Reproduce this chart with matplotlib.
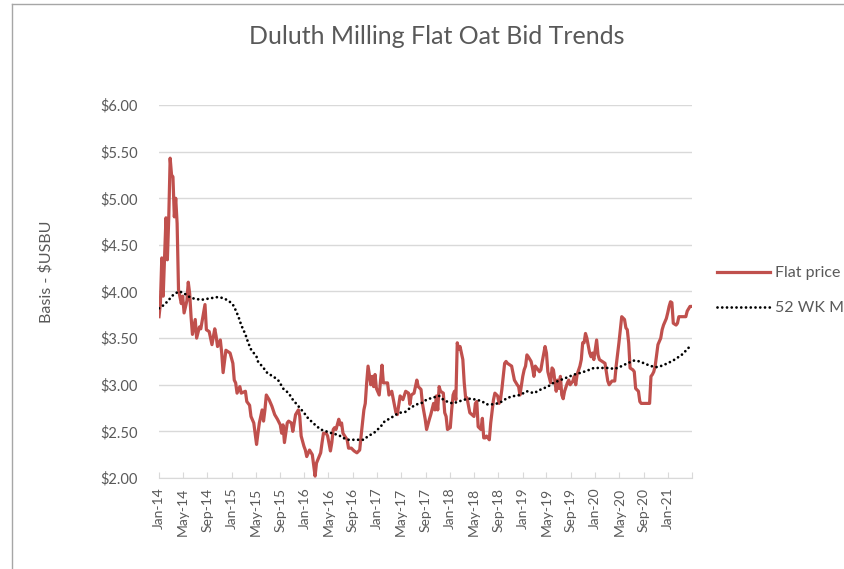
import numpy as np
import pandas as pd
import matplotlib
matplotlib.use('Agg')
import matplotlib.pyplot as plt
from matplotlib.lines import Line2D
from matplotlib.ticker import FuncFormatter

# Donnees (semaines depuis le 1er janvier 2014)
start = pd.Timestamp('2014-01-01')

price_weeks = [0, 1, 2, 3, 4, 5, 6, 7, 8, 9, 10, 11, 12, 13, 14, 16, 17, 18, 20, 21,
               22, 23, 24, 26, 27, 29, 30, 33, 34, 36, 38, 40, 41, 42, 44, 45, 46, 48, 51, 53,
               54, 55, 56, 58, 59, 62, 63, 65, 66, 68, 70, 71, 72, 74, 75, 76, 77, 79, 81, 83,
               85, 87, 88, 89, 90, 92, 93, 95, 96, 98, 100, 101, 102, 104, 105, 106, 108, 110, 112, 113,
               116, 117, 118, 120, 121, 123, 124, 125, 126, 127, 129, 130, 131, 132, 135, 136, 138, 140, 142, 144,
               145, 147, 148, 149, 150, 152, 153, 154, 155, 156, 158, 160, 161, 164, 165, 167, 170, 171, 173, 175,
               177, 179, 180, 181, 183, 185, 186, 188, 189, 191, 192, 194, 195, 197, 198, 199, 200, 201, 202, 204,
               205, 206, 207, 209, 210, 211, 212, 213, 214, 215, 216, 218, 219, 220, 221, 223, 226, 227, 228, 229,
               231, 232, 233, 234, 235, 237, 238, 240, 241, 243, 244, 245, 246, 248, 249, 250, 252, 253, 255, 257,
               258, 259, 261, 262, 263, 264, 265, 267, 268, 269, 270, 271, 273, 274, 275, 277, 278, 279, 281, 282,
               283, 285, 286, 287, 288, 289, 290, 291, 293, 294, 295, 297, 298, 299, 300, 302, 303, 304, 305, 306,
               307, 309, 310, 311, 312, 314, 315, 316, 318, 320, 322, 323, 325, 327, 328, 330, 331, 332, 334, 335,
               336, 337, 338, 340, 341, 342, 344, 345, 346, 352, 353, 354, 355, 356, 358, 360, 361, 362, 364, 365,
               366, 367, 368, 369, 371, 372, 373, 376, 378, 379, 381, 382]
price_values = [3.73, 3.87, 4.36, 3.95, 4.36, 4.79, 4.34, 4.79, 5.43, 5.25, 5.23, 4.80, 5.00, 4.73, 4.02, 3.87, 3.95, 3.77, 3.90, 4.10,
                3.98, 3.73, 3.54, 3.70, 3.50, 3.62, 3.60, 3.86, 3.59, 3.57, 3.43, 3.60, 3.52, 3.41, 3.48, 3.34, 3.13, 3.37, 3.34, 3.23,
                3.05, 3.02, 2.91, 2.98, 2.91, 2.93, 2.82, 2.78, 2.66, 2.59, 2.36, 2.48, 2.59, 2.73, 2.61, 2.73, 2.89, 2.84, 2.77, 2.68,
                2.63, 2.57, 2.48, 2.57, 2.38, 2.59, 2.61, 2.59, 2.50, 2.68, 2.73, 2.66, 2.45, 2.34, 2.30, 2.23, 2.30, 2.25, 2.02, 2.16,
                2.27, 2.38, 2.48, 2.48, 2.45, 2.29, 2.38, 2.52, 2.54, 2.52, 2.63, 2.57, 2.59, 2.48, 2.41, 2.32, 2.32, 2.29, 2.27, 2.30,
                2.45, 2.73, 2.80, 3.02, 3.20, 3.00, 3.09, 2.98, 3.11, 2.96, 2.89, 3.21, 3.02, 3.02, 2.89, 2.93, 2.70, 2.68, 2.88, 2.84,
                2.93, 2.91, 2.79, 2.89, 2.91, 3.05, 2.98, 2.95, 2.80, 2.63, 2.52, 2.63, 2.68, 2.80, 2.73, 2.88, 2.73, 2.98, 2.93, 2.91,
                2.70, 2.66, 2.52, 2.54, 2.73, 2.89, 2.93, 2.84, 3.45, 3.38, 3.41, 3.27, 3.02, 2.86, 2.86, 2.70, 2.66, 2.80, 2.82, 2.55,
                2.52, 2.64, 2.43, 2.43, 2.45, 2.41, 2.59, 2.84, 2.91, 2.88, 2.80, 2.84, 2.95, 3.23, 3.25, 3.23, 3.21, 3.20, 3.05, 3.00,
                2.98, 2.89, 3.09, 3.16, 3.20, 3.32, 3.30, 3.25, 3.18, 3.09, 3.20, 3.18, 3.14, 3.16, 3.25, 3.41, 3.34, 3.14, 3.02, 3.18,
                3.16, 2.93, 3.05, 2.96, 3.09, 2.89, 2.85, 2.93, 3.02, 3.05, 3.00, 3.04, 3.09, 3.00, 3.11, 3.20, 3.27, 3.45, 3.45, 3.55,
                3.50, 3.34, 3.30, 3.34, 3.27, 3.48, 3.32, 3.27, 3.25, 3.23, 3.04, 3.00, 3.04, 3.04, 3.20, 3.45, 3.59, 3.73, 3.70, 3.61,
                3.59, 3.45, 3.18, 3.16, 3.14, 2.96, 2.93, 2.82, 2.80, 2.80, 3.09, 3.11, 3.14, 3.20, 3.43, 3.50, 3.59, 3.64, 3.71, 3.77,
                3.84, 3.89, 3.88, 3.66, 3.64, 3.66, 3.73, 3.73, 3.73, 3.79, 3.84, 3.84]

ma_weeks = [0, 4, 7, 10, 14, 17, 20, 23, 27, 30, 34, 38, 42, 46, 50, 53, 55, 57, 59, 62,
            64, 66, 70, 71, 75, 78, 82, 86, 89, 93, 96, 100, 104, 107, 112, 116, 120, 124, 129, 132,
            136, 140, 143, 147, 150, 154, 159, 162, 166, 170, 173, 177, 180, 185, 188, 192, 196, 201, 204, 208,
            211, 215, 219, 223, 228, 232, 235, 239, 243, 246, 250, 255, 259, 264, 269, 274, 279, 283, 288, 293,
            298, 303, 307, 312, 317, 322, 327, 332, 336, 341, 345, 348, 353, 357, 360, 365, 370, 375, 379, 382]
ma_values = [3.82, 3.86, 3.91, 3.96, 4.00, 3.99, 3.96, 3.93, 3.92, 3.91, 3.92, 3.93, 3.94, 3.93, 3.90, 3.86, 3.80, 3.73, 3.64, 3.54,
             3.45, 3.38, 3.30, 3.25, 3.18, 3.12, 3.09, 3.04, 2.96, 2.91, 2.84, 2.77, 2.70, 2.64, 2.57, 2.52, 2.50, 2.48, 2.46, 2.43,
             2.41, 2.41, 2.41, 2.41, 2.45, 2.48, 2.55, 2.61, 2.64, 2.68, 2.70, 2.71, 2.75, 2.79, 2.80, 2.84, 2.86, 2.88, 2.84, 2.81,
             2.80, 2.82, 2.84, 2.85, 2.84, 2.82, 2.79, 2.79, 2.80, 2.82, 2.86, 2.88, 2.89, 2.93, 2.91, 2.95, 2.98, 3.02, 3.05, 3.08,
             3.11, 3.13, 3.15, 3.18, 3.18, 3.18, 3.17, 3.20, 3.23, 3.26, 3.25, 3.23, 3.20, 3.19, 3.20, 3.23, 3.27, 3.32, 3.38, 3.43]

y_ticks = [2.0, 2.5, 3.0, 3.5, 4.0, 4.5, 5.0, 5.5, 6.0]
tick_labels = ['Jan-14', 'May-14', 'Sep-14', 'Jan-15', 'May-15', 'Sep-15', 'Jan-16', 'May-16',
               'Sep-16', 'Jan-17', 'May-17', 'Sep-17', 'Jan-18', 'May-18', 'Sep-18', 'Jan-19',
               'May-19', 'Sep-19', 'Jan-20', 'May-20', 'Sep-20', 'Jan-21', '']

price_dates = start + pd.to_timedelta(np.array(price_weeks) * 7, unit='D')
ma_dates = start + pd.to_timedelta(np.array(ma_weeks) * 7, unit='D')
tick_dates = pd.date_range('2014-01-01', '2021-05-01', freq='4MS')

plt.rcParams['font.family'] = ['Lato', 'DejaVu Sans']
grey_txt = '#595959'
grey_line = '#d9d9d9'

fig = plt.figure(figsize=(8.44, 5.69), dpi=100)
ax = fig.add_axes([159 / 844, 91 / 569, 533 / 844, 373 / 569])

ax.plot(price_dates, price_values, color='#C0504D', lw=2.3, label='Flat price',
        solid_joinstyle='round')
ax.plot(ma_dates, ma_values, color='black', lw=2.0, linestyle=(0, (0.01, 1.7)),
        dash_capstyle='round', label='52 WK MA')

ax.set_ylim(2, 6)
ax.set_xlim(price_dates[0], price_dates[-1])
ax.set_yticks(y_ticks)
ax.yaxis.set_major_formatter(FuncFormatter(lambda v, p: '${:.2f}'.format(v)))
ax.set_xticks(tick_dates, tick_labels, rotation=90)

ax.yaxis.grid(True, color=grey_line, lw=1)
ax.set_axisbelow(True)
for side in ['left', 'right', 'top']:
    ax.spines[side].set_visible(False)
ax.spines['bottom'].set_color(grey_line)
ax.tick_params(axis='y', length=0, pad=15, labelsize=10.5, labelcolor=grey_txt)
ax.tick_params(axis='x', direction='in', length=4, color=grey_line, pad=7,
               labelsize=10, labelcolor=grey_txt)

fig.text(437 / 844, 1 - 44 / 569, 'Duluth Milling Flat Oat Bid Trends', ha='center', va='baseline',
         fontsize=18, color=grey_txt)
fig.text(46 / 844, 1 - 272 / 569, 'Basis - $USBU', rotation=90, ha='center', va='center',
         fontsize=11.5, color=grey_txt)

ax.legend(loc='upper left', bbox_to_anchor=(717 / 844, 1 - 266 / 569), bbox_transform=fig.transFigure,
          frameon=False, fontsize=11.5, handlelength=3.3, handletextpad=0.35, labelspacing=1.3,
          borderpad=0, borderaxespad=0, labelcolor=grey_txt)

# cadre du graphique (coupe a droite et en bas)
fig.add_artist(Line2D([12 / 844, 12 / 844], [0, 1 - 4 / 569], color='#a6a6a6', lw=1))
fig.add_artist(Line2D([12 / 844, 1], [1 - 4 / 569, 1 - 4 / 569], color='#a6a6a6', lw=1))

fig.savefig('out.png', dpi=100)
